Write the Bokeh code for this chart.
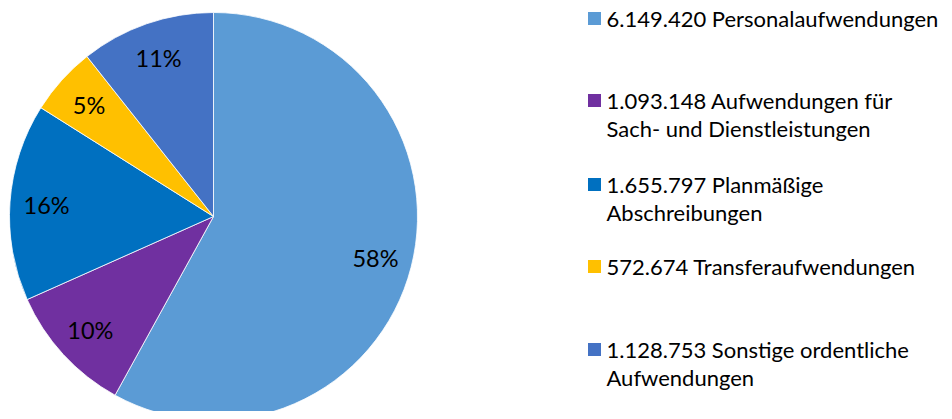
import numpy as np
from bokeh.plotting import figure
from bokeh.models import ColumnDataSource, Range1d
from bokeh.embed import file_html
from bokeh.resources import INLINE
from bokeh.core.properties import value

# ---- data ----
categories = ["Personalaufwendungen",
              "Aufwendungen für Sach- und Dienstleistungen",
              "Planmäßige Abschreibungen",
              "Transferaufwendungen",
              "Sonstige ordentliche Aufwendungen"]
amounts = [6149420, 1093148, 1655797, 572674, 1128753]
amount_labels = ["6.149.420", "1.093.148", "1.655.797", "572.674", "1.128.753"]
legend_lines = [["6.149.420 Personalaufwendungen"],
                ["1.093.148 Aufwendungen für", "Sach- und Dienstleistungen"],
                ["1.655.797 Planmäßige", "Abschreibungen"],
                ["572.674 Transferaufwendungen"],
                ["1.128.753 Sonstige ordentliche", "Aufwendungen"]]
colors = ["#5B9BD5", "#7030A0", "#0070C0", "#FFC000", "#4472C4"]

# ---- layout ----
W, H = 944, 411
FONT = "Lato"
FS = "22px"
LFS = "23.5px"
cx, cy, R = 213, H - 216, 204

vals = np.array(amounts, dtype=float)
frac = vals / vals.sum()
cum = np.concatenate([[0], np.cumsum(frac)])
start = np.pi / 2 - 2 * np.pi * cum[:-1]
end = np.pi / 2 - 2 * np.pi * cum[1:]
mid = (start + end) / 2
pct = [f"{round(f * 100):.0f}%" for f in frac]

p = figure(width=W, height=H, x_range=Range1d(0, W), y_range=Range1d(0, H),
           output_backend="svg", toolbar_location=None, min_border=0)
p.axis.visible = False
p.grid.visible = False
p.outline_line_color = None
p.background_fill_color = "white"

src = ColumnDataSource(dict(x=[cx] * len(vals), y=[cy] * len(vals),
                            start=start, end=end, color=colors, cat=categories))
p.wedge(x="x", y="y", radius=R, radius_units="screen", start_angle="start",
        end_angle="end", direction="clock", fill_color="color",
        line_color="white", line_width=0.8, source=src)

rl = 0.82 * R
lab = ColumnDataSource(dict(x=cx + rl * np.cos(mid), y=cy + rl * np.sin(mid), t=pct))
p.text(x="x", y="y", text="t", source=lab, text_align="center",
       text_baseline="middle", text_font=value(FONT), text_font_size=LFS,
       text_color="#000000")

# legend
row_y = [18, 100, 184, 266, 349]
sq_x, tx = 594, 606
lsq = ColumnDataSource(dict(x=[sq_x] * 5, y=[H - y for y in row_y], c=colors))
p.rect(x="x", y="y", width=13, height=13, width_units="screen",
       height_units="screen", fill_color="c", line_color=None, source=lsq)
lx, ly, lt = [], [], []
for y0, lines in zip(row_y, legend_lines):
    for i, s in enumerate(lines):
        lx.append(tx)
        ly.append(H - (y0 + 28 * i))
        lt.append(s)
p.text(x=lx, y=ly, text=lt, text_align="left", text_baseline="middle",
       text_font=value(FONT), text_font_size=FS, text_color="#000000")

open("out.html", "w").write(file_html(p, INLINE))
